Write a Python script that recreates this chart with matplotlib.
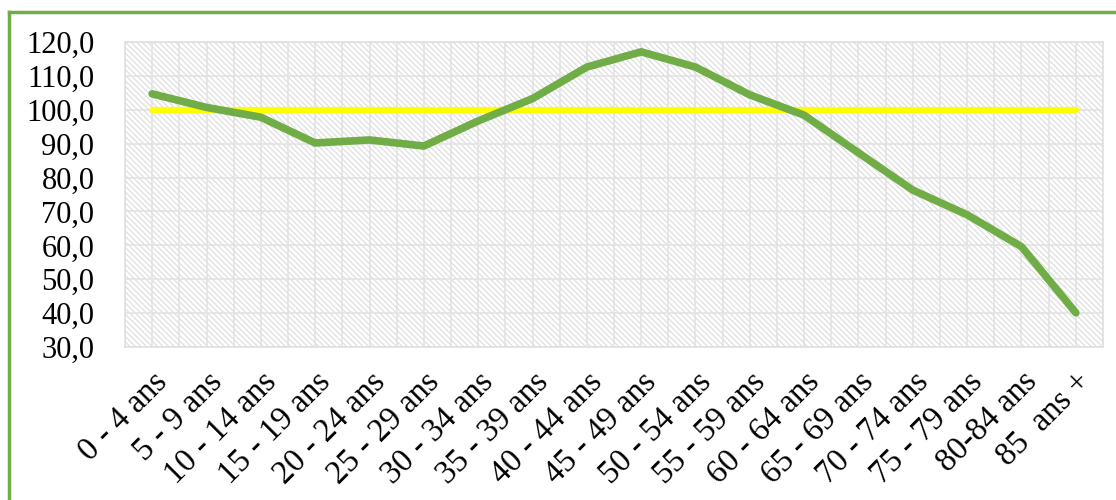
import matplotlib.pyplot as plt
from matplotlib.lines import Line2D
from matplotlib.ticker import MultipleLocator, FuncFormatter

# data
groupes = ["0 - 4 ans", "5 - 9 ans", "10 - 14 ans", "15 - 19 ans", "20 - 24 ans",
           "25 - 29 ans", "30 - 34 ans", "35 - 39 ans", "40 - 44 ans", "45 - 49 ans",
           "50 - 54 ans", "55 - 59 ans", "60 - 64 ans", "65 - 69 ans", "70 - 74 ans",
           "75 - 79 ans", "80-84 ans", "85  ans +"]
rapport = [104.7, 100.7, 97.8, 90.2, 91.1, 89.3, 96.7, 103.3, 112.6, 117.1,
           112.6, 104.4, 98.4, 87.3, 76.3, 69.0, 59.6, 40.1]
reference = [100.0] * len(groupes)

plt.rcParams['font.family'] = ['Liberation Serif', 'DejaVu Serif']
plt.rcParams['hatch.linewidth'] = 0.8

fig = plt.figure(figsize=(11.16, 5.0), dpi=100)
ax = fig.add_axes([125 / 1116, 1 - 347 / 500, 978 / 1116, 305 / 500])

x = list(range(len(groupes)))

# hatched background
ax.set_facecolor('white')
bg = plt.Rectangle((0, 0), 1, 1, transform=ax.transAxes, facecolor='white',
                   edgecolor='#dcdcdc', hatch='\\\\\\\\\\\\', linewidth=0, zorder=0)
ax.add_patch(bg)

ax.plot(x, reference, color='#ffff00', linewidth=4.5, solid_capstyle='round', zorder=3)
ax.plot(x, rapport, color='#70ad47', linewidth=5.5, solid_capstyle='round',
        solid_joinstyle='round', zorder=4)

ax.set_xlim(-0.5, len(groupes) - 0.5)
ax.set_ylim(30, 120)
ax.yaxis.set_major_locator(MultipleLocator(10))
ax.yaxis.set_major_formatter(FuncFormatter(lambda v, p: f"{v:.1f}".replace('.', ',')))
ax.set_xticks(x)
ax.set_xticks([i - 0.5 for i in x] + [len(groupes) - 0.5], minor=True)
ax.set_xticklabels(groupes, rotation=45, ha='right', rotation_mode='anchor', fontsize=23.5)

ax.grid(True, which='both', axis='x', color='#e3e3e3', linewidth=1.2, zorder=1)
ax.grid(True, which='major', axis='y', color='#e3e3e3', linewidth=1.2, zorder=1)
ax.set_axisbelow(True)

for s in ax.spines.values():
    s.set_color('#e0e0e0')
    s.set_linewidth(1.2)

ax.tick_params(axis='both', which='both', length=0, colors='black')
ax.tick_params(axis='y', labelsize=22, pad=22)
ax.tick_params(axis='x', pad=14)

# green frame (top and left edges visible)
fig.add_artist(Line2D([9 / 1116, 9 / 1116], [0, 1 - 12 / 500], color='#70ad47',
                      linewidth=2.5, transform=fig.transFigure))
fig.add_artist(Line2D([9 / 1116, 1], [1 - 12 / 500, 1 - 12 / 500], color='#70ad47',
                      linewidth=2.5, transform=fig.transFigure))

fig.savefig('out.png', dpi=100)
